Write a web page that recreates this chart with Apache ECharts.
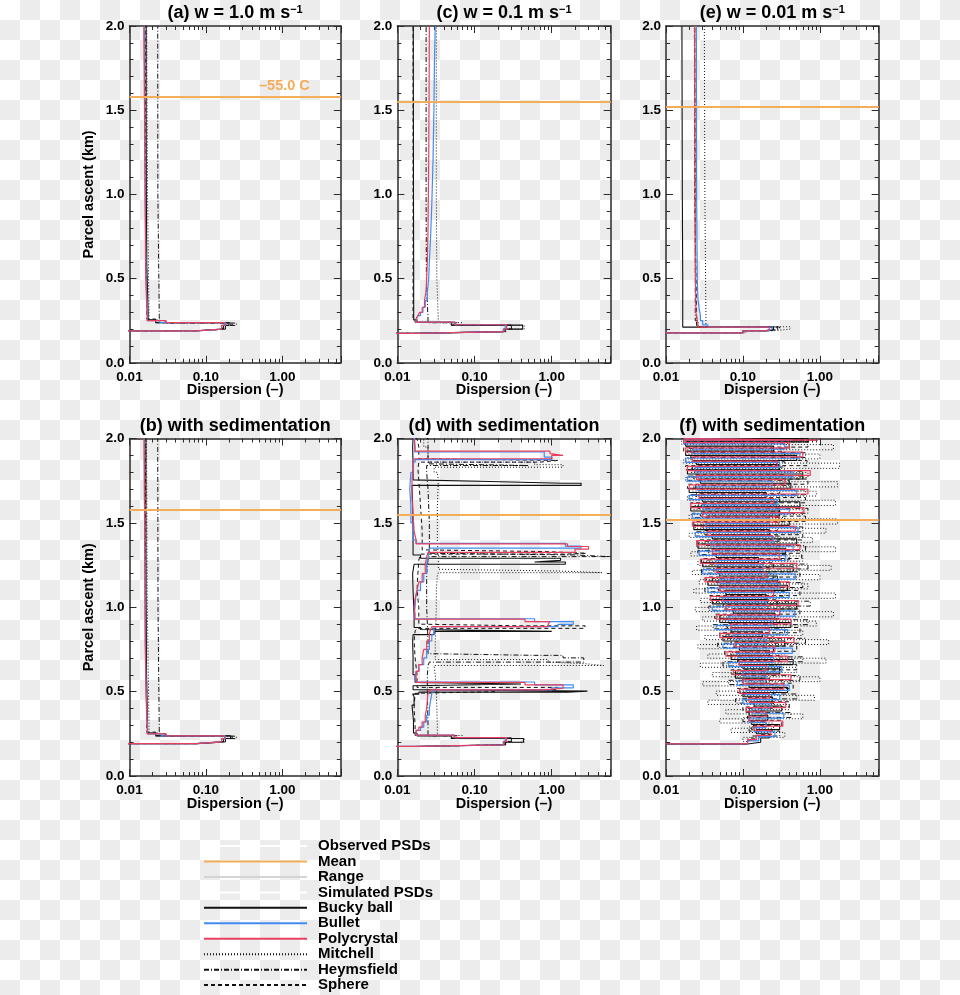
<!DOCTYPE html>
<html><head><meta charset="utf-8">
<script src="https://cdn.jsdelivr.net/npm/echarts@6/dist/echarts.min.js"></script>
<style>
html,body{margin:0;padding:0;}
body{width:960px;height:995px;background:repeating-conic-gradient(#ececec 0 25%, #ffffff 0 50%) 0 0/40px 40px;}
#chart{width:960px;height:995px;}
</style></head><body><div id="chart"></div>
<script>
// ---------- axes / labels ----------
const xMin = 0.01, xMax = 5.8;
const xMinorTicks = [0.02,0.03,0.04,0.05,0.06,0.07,0.08,0.09,0.2,0.3,0.4,0.5,0.6,0.7,0.8,0.9,2,3,4,5];
const yMin = 0, yMax = 2, yStep = 0.5;
const panelTitles = ['(a) w = 1.0 m s', '(b) with sedimentation', '(c) w = 0.1 m s', '(d) with sedimentation', '(e) w = 0.01 m s', '(f) with sedimentation'];
const panelSup = ['−1', '', '−1', '', '−1', ''];
const meanLevels = [1.58, 1.58, 1.55, 1.55, 1.52, 1.52];
const meanLabel = '–55.0 C';
const xName = 'Dispersion (–)';
const yName = 'Parcel ascent (km)';
const profileNames = ['Bucky ball', 'Bullet', 'Polycrystal', 'Mitchell', 'Heymsfield', 'Sphere'];
const legendNames = ['Observed PSDs', 'Mean', 'Range', 'Simulated PSDs', 'Bucky ball', 'Bullet', 'Polycrystal', 'Mitchell', 'Heymsfield', 'Sphere'];

// ---------- data: [dispersion, altitude km] ----------
// (a) w = 1.0
const aBucky = [[0.009,0],[0.075,0.19],[0.17,0.2],[0.2,0.222],[0.022,0.238],[0.0175,0.255],[0.0168,0.3],[0.0166,0.6],[0.0165,1.0],[0.0165,1.5],[0.0166,2.0]];
const aBullet = [[0.009,0],[0.075,0.19],[0.16,0.2],[0.18,0.222],[0.025,0.238],[0.0172,0.25],[0.0165,0.28],[0.016,0.5],[0.0158,1.0],[0.0156,1.5],[0.0155,2.0]];
const aPoly = [[0.009,0],[0.075,0.19],[0.16,0.2],[0.175,0.222],[0.03,0.238],[0.017,0.25],[0.0163,0.28],[0.016,0.5],[0.0157,1.0],[0.0154,1.5],[0.0152,2.0]];
const aMitchell = [[0.009,0],[0.078,0.19],[0.165,0.2],[0.21,0.222],[0.025,0.238],[0.018,0.255],[0.0172,0.3],[0.0168,1.0],[0.0168,2.0]];
const aHeyms = [[0.009,0],[0.08,0.19],[0.18,0.2],[0.25,0.222],[0.03,0.236],[0.0245,0.25],[0.0235,0.28],[0.0234,1.0],[0.0234,2.0]];
const aSphere = [[0.009,0],[0.075,0.19],[0.165,0.2],[0.22,0.222],[0.022,0.238],[0.0168,0.26],[0.0162,0.5],[0.016,1.0],[0.016,2.0]];
// (b) w = 1.0 with sedimentation
const bBucky = [[0.009,0],[0.075,0.192],[0.17,0.202],[0.21,0.222],[0.022,0.238],[0.0172,0.254],[0.0167,0.3],[0.0165,0.6],[0.0164,1.0],[0.0164,1.5],[0.0165,2.0]];
const bBullet = [[0.009,0],[0.075,0.192],[0.16,0.202],[0.18,0.222],[0.026,0.238],[0.0172,0.25],[0.0165,0.28],[0.016,0.5],[0.0159,0.8],[0.0157,1.2],[0.0156,1.6],[0.0155,2.0]];
const bPoly = [[0.009,0],[0.075,0.192],[0.16,0.202],[0.175,0.222],[0.03,0.238],[0.017,0.25],[0.0164,0.28],[0.016,0.5],[0.0158,1.0],[0.0155,1.5],[0.0153,2.0]];
const bMitchell = [[0.009,0],[0.078,0.192],[0.165,0.202],[0.22,0.222],[0.025,0.238],[0.018,0.255],[0.0171,0.3],[0.0167,1.0],[0.0166,2.0]];
const bHeyms = [[0.009,0],[0.08,0.192],[0.18,0.202],[0.25,0.222],[0.03,0.236],[0.0245,0.25],[0.0236,0.28],[0.0234,1.0],[0.0233,2.0]];
const bSphere = [[0.009,0],[0.075,0.192],[0.165,0.202],[0.22,0.222],[0.022,0.238],[0.0168,0.26],[0.0162,0.5],[0.016,1.0],[0.016,2.0]];
// (c) w = 0.1
const cBucky = [[0.009,0],[0.017,0.175],[0.24,0.185],[0.42,0.2],[0.05,0.224],[0.018,0.24],[0.0163,0.255],[0.0162,0.5],[0.0161,1.0],[0.0161,2.0]];
const cBullet = [[0.009,0],[0.017,0.175],[0.235,0.185],[0.25,0.2],[0.056,0.226],[0.0175,0.242],[0.0185,0.26],[0.02,0.28],[0.0215,0.3],[0.023,0.33],[0.0245,0.37],[0.0255,0.42],[0.026,0.5],[0.027,0.6],[0.028,0.75],[0.029,0.95],[0.0298,1.2],[0.0303,1.5],[0.031,1.8],[0.031,2.0]];
const cPoly = [[0.009,0],[0.017,0.175],[0.24,0.185],[0.26,0.2],[0.055,0.226],[0.0175,0.242],[0.0185,0.26],[0.0195,0.28],[0.021,0.3],[0.0225,0.33],[0.0235,0.37],[0.024,0.42],[0.0245,0.5],[0.025,0.6],[0.0255,0.8],[0.0258,1.2],[0.026,1.6],[0.026,2.0]];
const cMitchell = [[0.009,0],[0.018,0.175],[0.26,0.185],[0.44,0.2],[0.07,0.222],[0.034,0.238],[0.0325,0.26],[0.032,0.5],[0.032,1.0],[0.032,2.0]];
const cHeyms = [[0.009,0],[0.017,0.175],[0.25,0.185],[0.3,0.2],[0.06,0.222],[0.025,0.238],[0.0238,0.26],[0.0236,0.5],[0.0236,1.0],[0.0236,2.0]];
const cSphere = [[0.009,0],[0.017,0.175],[0.24,0.185],[0.3,0.2],[0.05,0.224],[0.017,0.24],[0.016,0.26],[0.016,1.0],[0.016,2.0]];
// (d) w = 0.1 with sedimentation
const dBucky = [[0.009,0],[0.017,0.175],[0.25,0.185],[0.43,0.2],[0.05,0.222],[0.018,0.238],[0.0162,0.255],[0.0155,0.33],[0.0165,0.42],[0.0158,0.47],[0.019,0.485],[1.6,0.497],[2.9,0.503],[0.016,0.512],[0.017,0.535],[0.4,0.545],[0.017,0.555],[0.016,0.6],[0.0158,0.7],[0.016,0.8],[0.03,0.838],[1.0,0.857],[0.02,0.868],[0.0165,0.88],[0.016,0.95],[0.0158,1.1],[0.0165,1.2],[1.5,1.255],[0.6,1.268],[1.3,1.278],[0.02,1.29],[0.016,1.31],[0.0158,1.45],[0.0155,1.6],[2.4,1.722],[1.4,1.735],[0.16,1.745],[0.016,1.755],[0.0158,1.85],[0.016,1.95],[0.016,2.0]];
const dBullet = [[0.009,0],[0.017,0.175],[0.235,0.185],[0.25,0.205],[0.055,0.228],[0.0175,0.242],[0.02,0.27],[0.022,0.29],[0.024,0.32],[0.026,0.36],[0.027,0.4],[0.028,0.45],[0.029,0.49],[1.0,0.51],[1.9,0.522],[0.6,0.54],[0.017,0.557],[0.0175,0.58],[0.019,0.62],[0.022,0.66],[0.024,0.7],[0.026,0.75],[0.028,0.8],[0.03,0.84],[0.029,0.87],[1.2,0.885],[1.9,0.898],[0.6,0.915],[0.0165,0.932],[0.017,0.96],[0.0172,1.0],[0.018,1.05],[0.02,1.1],[0.022,1.15],[0.024,1.2],[0.025,1.25],[0.026,1.3],[2.4,1.35],[1.5,1.362],[0.0175,1.378],[0.016,1.4],[0.015,1.5],[0.0145,1.6],[0.015,1.7],[0.016,1.8],[0.017,1.86],[1.0,1.875],[0.8,1.89],[0.0168,1.92],[0.016,2.0]];
const dPoly = [[0.009,0],[0.017,0.175],[0.24,0.185],[0.26,0.205],[0.055,0.228],[0.0175,0.242],[0.019,0.27],[0.021,0.29],[0.023,0.32],[0.024,0.36],[0.0245,0.4],[0.025,0.45],[0.0265,0.49],[0.8,0.51],[1.4,0.52],[0.45,0.54],[0.0175,0.555],[0.0175,0.58],[0.019,0.62],[0.021,0.66],[0.022,0.7],[0.024,0.75],[0.026,0.8],[0.027,0.84],[0.028,0.87],[0.9,0.885],[0.95,0.9],[0.45,0.915],[0.017,0.93],[0.0165,0.96],[0.017,1.0],[0.018,1.05],[0.019,1.1],[0.021,1.15],[0.023,1.2],[0.024,1.25],[0.025,1.3],[2.0,1.325],[3.0,1.345],[1.6,1.36],[0.0175,1.375],[0.0165,1.4],[0.016,1.45],[0.0155,1.55],[0.0155,1.65],[0.016,1.75],[0.0165,1.85],[1.0,1.88],[1.4,1.9],[0.95,1.91],[0.017,1.925],[0.0165,1.95],[0.0162,2.0]];
const dMitchell = [[0.009,0],[0.018,0.175],[0.26,0.185],[0.44,0.2],[0.07,0.222],[0.033,0.24],[0.032,0.3],[0.031,0.5],[0.03,0.6],[4.7,0.655],[2.8,0.665],[0.9,0.675],[0.031,0.69],[0.032,0.8],[0.032,1.0],[0.033,1.1],[0.034,1.19],[4.5,1.205],[1.2,1.215],[0.034,1.225],[0.033,1.3],[0.033,1.4],[0.034,1.6],[0.033,1.75],[0.03,1.8],[1.4,1.83],[0.6,1.845],[0.025,1.86],[0.022,1.95],[0.022,2.0]];
const dHeyms = [[0.009,0],[0.018,0.175],[0.25,0.185],[0.3,0.205],[0.06,0.224],[0.025,0.238],[0.0245,0.3],[0.0245,0.5],[0.025,0.6],[0.026,0.655],[2.6,0.675],[1.4,0.7],[0.6,0.715],[0.025,0.725],[0.024,0.8],[0.024,1.0],[0.025,1.2],[0.026,1.28],[5.4,1.3],[2.0,1.31],[0.026,1.32],[0.025,1.5],[0.024,1.7],[0.024,1.8],[0.5,1.84],[0.025,1.85],[0.024,2.0]];
const dSphere = [[0.009,0],[0.017,0.175],[0.24,0.185],[0.3,0.205],[0.05,0.226],[0.017,0.24],[0.0165,0.3],[0.017,0.4],[0.018,0.49],[0.2,0.5],[1.2,0.512],[0.018,0.525],[0.017,0.6],[0.0165,0.7],[0.017,0.8],[0.018,0.86],[2.7,0.875],[0.4,0.89],[0.019,0.9],[0.018,1.0],[0.0185,1.1],[0.019,1.2],[0.02,1.28],[1.6,1.315],[2.8,1.32],[0.8,1.33],[0.021,1.34],[0.02,1.45],[0.019,1.6],[0.0185,1.75],[0.019,1.82],[0.7,1.86],[1.2,1.87],[0.019,1.88],[0.018,1.95],[0.017,2.0]];
// (e) w = 0.01
const eBucky = [[0.009,0],[0.1,0.178],[0.21,0.19],[0.25,0.2],[0.0165,0.212],[0.0163,0.5],[0.0162,1.0],[0.0161,1.5],[0.016,2.0]];
const eBullet = [[0.009,0],[0.1,0.178],[0.21,0.19],[0.24,0.2],[0.035,0.212],[0.03,0.225],[0.028,0.25],[0.027,0.28],[0.026,0.32],[0.0255,0.38],[0.025,0.5],[0.0248,1.0],[0.0246,2.0]];
const ePoly = [[0.009,0],[0.1,0.178],[0.2,0.19],[0.22,0.2],[0.026,0.212],[0.0245,0.23],[0.024,0.3],[0.0238,0.6],[0.0236,1.0],[0.0235,2.0]];
const eMitchell = [[0.009,0],[0.11,0.178],[0.25,0.19],[0.41,0.2],[0.033,0.214],[0.032,0.3],[0.0315,1.0],[0.0315,2.0]];
const eHeyms = [[0.009,0],[0.1,0.178],[0.22,0.19],[0.3,0.2],[0.026,0.213],[0.024,0.25],[0.0237,1.0],[0.0237,2.0]];
const eSphere = [[0.009,0],[0.1,0.178],[0.2,0.19],[0.28,0.2],[0.025,0.212],[0.0236,0.3],[0.0234,1.0],[0.0234,2.0]];
// (f) w = 0.01 with sedimentation
const fBucky = [[0.009,0],[0.115,0.19],[0.17,0.2],[0.22,0.225],[0.15,0.25],[0.3,0.275],[0.13,0.305],[0.21,0.33],[0.12,0.36],[0.32,0.385],[0.14,0.415],[0.24,0.44],[0.1,0.47],[0.38,0.495],[0.12,0.525],[0.2,0.55],[0.08,0.58],[0.3,0.605],[0.1,0.635],[0.45,0.66],[0.07,0.69],[0.22,0.715],[0.09,0.745],[0.35,0.77],[0.055,0.8],[0.18,0.825],[0.07,0.855],[0.42,0.88],[0.05,0.91],[0.26,0.935],[0.075,0.965],[0.5,0.99],[0.04,1.02],[0.2,1.045],[0.06,1.075],[0.38,1.1],[0.035,1.13],[0.28,1.155],[0.05,1.185],[0.45,1.21],[0.03,1.24],[0.16,1.265],[0.045,1.295],[0.36,1.32],[0.026,1.35],[0.5,1.375],[0.04,1.405],[0.22,1.43],[0.023,1.46],[0.4,1.485],[0.035,1.515],[0.3,1.54],[0.021,1.57],[0.55,1.595],[0.03,1.625],[0.2,1.65],[0.02,1.68],[0.42,1.705],[0.028,1.735],[0.6,1.76],[0.019,1.79],[0.3,1.815],[0.025,1.845],[0.5,1.87],[0.018,1.9],[0.25,1.925],[0.018,1.955],[0.7,1.98],[0.017,2.0]];
const fBullet = [[0.009,0],[0.115,0.19],[0.16,0.208],[0.26,0.233],[0.14,0.262],[0.2,0.287],[0.12,0.318],[0.34,0.343],[0.13,0.372],[0.22,0.397],[0.1,0.428],[0.3,0.453],[0.11,0.482],[0.4,0.507],[0.085,0.538],[0.2,0.563],[0.1,0.592],[0.32,0.617],[0.065,0.648],[0.25,0.673],[0.085,0.702],[0.44,0.727],[0.055,0.758],[0.2,0.783],[0.075,0.812],[0.38,0.837],[0.045,0.868],[0.24,0.893],[0.065,0.922],[0.47,0.947],[0.04,0.978],[0.2,1.003],[0.055,1.032],[0.4,1.057],[0.035,1.088],[0.3,1.113],[0.05,1.142],[0.48,1.167],[0.03,1.198],[0.18,1.223],[0.045,1.252],[0.36,1.277],[0.027,1.308],[0.45,1.333],[0.038,1.362],[0.25,1.387],[0.024,1.418],[0.52,1.443],[0.033,1.472],[0.22,1.497],[0.022,1.528],[0.4,1.553],[0.03,1.582],[0.28,1.607],[0.02,1.638],[0.5,1.663],[0.026,1.692],[0.24,1.717],[0.019,1.748],[0.45,1.773],[0.024,1.802],[0.3,1.827],[0.018,1.858],[0.55,1.883],[0.022,1.912],[0.35,1.937],[0.017,1.968],[0.45,1.99],[0.017,2.0]];
const fPoly = [[0.009,0],[0.115,0.19],[0.15,0.216],[0.23,0.241],[0.14,0.27],[0.33,0.295],[0.12,0.326],[0.2,0.351],[0.11,0.38],[0.36,0.405],[0.12,0.436],[0.22,0.461],[0.09,0.49],[0.34,0.515],[0.1,0.546],[0.42,0.571],[0.075,0.6],[0.2,0.625],[0.09,0.656],[0.38,0.681],[0.06,0.71],[0.26,0.735],[0.08,0.766],[0.46,0.791],[0.05,0.82],[0.22,0.845],[0.07,0.876],[0.42,0.901],[0.045,0.93],[0.3,0.955],[0.06,0.986],[0.52,1.011],[0.038,1.04],[0.25,1.065],[0.05,1.096],[0.4,1.121],[0.032,1.15],[0.2,1.175],[0.045,1.206],[0.5,1.231],[0.028,1.26],[0.3,1.285],[0.04,1.316],[0.55,1.341],[0.025,1.37],[0.24,1.395],[0.035,1.426],[0.48,1.451],[0.022,1.48],[0.3,1.505],[0.03,1.536],[0.62,1.561],[0.021,1.59],[0.25,1.615],[0.027,1.646],[0.7,1.671],[0.02,1.7],[0.35,1.725],[0.025,1.756],[0.75,1.781],[0.019,1.81],[0.28,1.835],[0.022,1.866],[0.6,1.891],[0.018,1.92],[0.4,1.945],[0.017,1.976],[0.95,1.99],[0.017,2.0]];
const fMitchell = [[0.009,0],[0.115,0.19],[0.1,0.204],[0.35,0.229],[0.07,0.258],[0.25,0.283],[0.05,0.314],[0.6,0.339],[0.06,0.368],[0.4,0.393],[0.035,0.424],[0.85,0.449],[0.045,0.478],[0.3,0.503],[0.03,0.534],[1.0,0.559],[0.04,0.588],[0.5,0.613],[0.028,0.644],[1.2,0.669],[0.035,0.698],[0.35,0.723],[0.026,0.754],[1.3,0.779],[0.032,0.808],[0.6,0.833],[0.025,0.864],[0.9,0.889],[0.03,0.918],[1.5,0.943],[0.024,0.974],[0.5,0.999],[0.028,1.028],[1.6,1.053],[0.023,1.084],[0.7,1.109],[0.027,1.138],[1.0,1.163],[0.022,1.194],[1.4,1.219],[0.026,1.248],[0.6,1.273],[0.021,1.304],[1.6,1.329],[0.025,1.358],[0.8,1.383],[0.02,1.414],[1.2,1.439],[0.024,1.468],[1.7,1.493],[0.02,1.524],[0.6,1.549],[0.023,1.578],[1.6,1.603],[0.019,1.634],[0.9,1.659],[0.022,1.688],[1.7,1.713],[0.018,1.744],[0.7,1.769],[0.021,1.798],[1.8,1.823],[0.017,1.854],[1.0,1.879],[0.019,1.908],[1.5,1.933],[0.016,1.964],[0.9,1.99],[0.016,2.0]];
const fHeyms = [[0.009,0],[0.115,0.19],[0.13,0.212],[0.3,0.237],[0.12,0.266],[0.2,0.291],[0.1,0.322],[0.42,0.347],[0.11,0.376],[0.25,0.401],[0.08,0.432],[0.5,0.457],[0.1,0.486],[0.28,0.511],[0.065,0.542],[0.55,0.567],[0.08,0.596],[0.3,0.621],[0.055,0.652],[0.6,0.677],[0.07,0.706],[0.25,0.731],[0.047,0.762],[0.65,0.787],[0.06,0.816],[0.35,0.841],[0.041,0.872],[0.7,0.897],[0.05,0.926],[0.3,0.951],[0.036,0.982],[0.75,1.007],[0.045,1.036],[0.35,1.061],[0.032,1.092],[0.6,1.117],[0.04,1.146],[0.25,1.171],[0.029,1.202],[0.7,1.227],[0.035,1.256],[0.4,1.281],[0.026,1.312],[0.65,1.337],[0.032,1.366],[0.3,1.391],[0.024,1.422],[0.6,1.447],[0.029,1.476],[0.35,1.501],[0.022,1.532],[0.7,1.557],[0.026,1.586],[0.3,1.611],[0.02,1.642],[0.65,1.667],[0.024,1.696],[0.4,1.721],[0.019,1.752],[0.6,1.777],[0.022,1.806],[0.35,1.831],[0.018,1.862],[0.65,1.887],[0.02,1.916],[0.4,1.941],[0.017,1.972],[0.6,1.99],[0.017,2.0]];
const fSphere = [[0.009,0],[0.115,0.19],[0.16,0.22],[0.24,0.245],[0.13,0.274],[0.32,0.299],[0.115,0.33],[0.2,0.355],[0.1,0.384],[0.4,0.409],[0.11,0.44],[0.25,0.465],[0.085,0.494],[0.45,0.519],[0.1,0.55],[0.22,0.575],[0.07,0.604],[0.5,0.629],[0.085,0.66],[0.3,0.685],[0.058,0.714],[0.5,0.739],[0.07,0.77],[0.25,0.795],[0.05,0.824],[0.55,0.849],[0.062,0.88],[0.3,0.905],[0.043,0.934],[0.55,0.959],[0.055,0.99],[0.28,1.015],[0.037,1.044],[0.55,1.069],[0.048,1.1],[0.3,1.125],[0.033,1.154],[0.55,1.179],[0.042,1.21],[0.25,1.235],[0.029,1.264],[0.58,1.289],[0.036,1.32],[0.3,1.345],[0.026,1.374],[0.6,1.399],[0.032,1.43],[0.28,1.455],[0.023,1.484],[0.65,1.509],[0.028,1.54],[0.3,1.565],[0.021,1.594],[0.65,1.619],[0.025,1.65],[0.3,1.675],[0.019,1.704],[0.7,1.729],[0.023,1.76],[0.35,1.785],[0.018,1.814],[0.68,1.839],[0.021,1.87],[0.35,1.895],[0.017,1.924],[0.7,1.949],[0.019,1.98],[0.6,1.995],[0.017,2.0]];

const panelProfiles = [
  [aBucky, aBullet, aPoly, aMitchell, aHeyms, aSphere],
  [bBucky, bBullet, bPoly, bMitchell, bHeyms, bSphere],
  [cBucky, cBullet, cPoly, cMitchell, cHeyms, cSphere],
  [dBucky, dBullet, dPoly, dMitchell, dHeyms, dSphere],
  [eBucky, eBullet, ePoly, eMitchell, eHeyms, eSphere],
  [fBucky, fBullet, fPoly, fMitchell, fHeyms, fSphere]
];

// ---------- layout & style ----------
const FONT = "'Liberation Sans', Arial, Helvetica, sans-serif";
const AX = '#2b2b2b';
const ORANGE = '#f4ad5a';
const colLeft = [129.5, 397.3, 666];
const colWidth = [211.3, 213.4, 212.6];
const rowTop = [26, 438.5];
const rowHeight = [336.8, 337.5];
const rowTitleY = [13.5, 426.5];
const panelRow = [0, 1, 0, 1, 0, 1];
const panelCol = [0, 0, 1, 1, 2, 2];
const drawOrder = [0, 3, 4, 5, 1, 2]; // black profiles first, blue and red on top
const profileStyle = {
  'Bucky ball': {color: '#111111', width: 1.1, type: 'solid'},
  'Bullet': {color: '#3f8cf5', width: 1.2, type: 'solid'},
  'Polycrystal': {color: '#e8405e', width: 1.2, type: 'solid'},
  'Mitchell': {color: '#111111', width: 1, type: [1, 2]},
  'Heymsfield': {color: '#111111', width: 1, type: [5, 2, 1, 2]},
  'Sphere': {color: '#111111', width: 1, type: [4, 3]}
};

function fmtX(v) {
  const l = Math.log10(v);
  return Math.abs(l - Math.round(l)) < 1e-6 ? v.toFixed(2) : '';
}
const tickFont = {fontSize: 13.5, fontWeight: 'bold', fontFamily: FONT, color: '#000'};
const nameFont = {fontSize: 14.5, fontWeight: 'bold', fontFamily: FONT, color: '#000'};

const grids = [], xAxes = [], yAxes = [], series = [], titles = [];
for (let p = 0; p < 6; p++) {
  const r = panelRow[p], c = panelCol[p];
  const g = {left: colLeft[c], top: rowTop[r], width: colWidth[c], height: rowHeight[r], outerBoundsMode: 'none', containLabel: false};
  grids.push(Object.assign({}, g), Object.assign({}, g));
  const gMain = 2 * p, gMinor = 2 * p + 1;
  const lineSt = {show: true, onZero: false, lineStyle: {color: AX, width: 1.5}};
  const tickSt = {show: true, inside: true, length: 7, lineStyle: {color: AX, width: 1}};
  xAxes.push({gridIndex: gMain, type: 'log', logBase: 10, min: xMin, max: xMax, position: 'bottom',
    axisLine: lineSt, axisTick: tickSt, splitLine: {show: false}, minorTick: {show: false},
    axisLabel: Object.assign({show: true, margin: 7, formatter: fmtX, showMinLabel: true, showMaxLabel: true}, tickFont),
    name: xName, nameLocation: 'middle', nameGap: 20, nameMoveOverlap: false, nameTextStyle: nameFont});
  xAxes.push({gridIndex: gMain, type: 'log', logBase: 10, min: xMin, max: xMax, position: 'top',
    axisLine: lineSt, axisTick: tickSt, splitLine: {show: false}, axisLabel: {show: false}});
  const minorSt = {show: true, inside: true, length: 4, customValues: xMinorTicks, lineStyle: {color: AX, width: 1}};
  xAxes.push({gridIndex: gMinor, type: 'log', logBase: 10, min: xMin, max: xMax, position: 'bottom',
    axisLine: {show: false}, axisTick: minorSt, splitLine: {show: false}, axisLabel: {show: false}});
  xAxes.push({gridIndex: gMinor, type: 'log', logBase: 10, min: xMin, max: xMax, position: 'top',
    axisLine: {show: false}, axisTick: minorSt, splitLine: {show: false}, axisLabel: {show: false}});
  const yMinor = {show: true, splitNumber: 5, length: 4, lineStyle: {color: AX, width: 1}};
  yAxes.push({gridIndex: gMain, type: 'value', min: yMin, max: yMax, interval: yStep, position: 'left',
    axisLine: lineSt, axisTick: tickSt, minorTick: yMinor, splitLine: {show: false}, minorSplitLine: {show: false},
    axisLabel: Object.assign({show: true, margin: 5, formatter: v => v.toFixed(1), showMinLabel: true, showMaxLabel: true}, tickFont),
    name: c === 0 ? yName : '', nameLocation: 'middle', nameGap: 33, nameRotate: 90, nameMoveOverlap: false, nameTextStyle: nameFont});
  yAxes.push({gridIndex: gMain, type: 'value', min: yMin, max: yMax, interval: yStep, position: 'right',
    axisLine: lineSt, axisTick: tickSt, minorTick: yMinor, splitLine: {show: false}, minorSplitLine: {show: false},
    axisLabel: {show: false}});
  yAxes.push({gridIndex: gMinor, type: 'value', min: yMin, max: yMax, show: false});

  drawOrder.forEach(k => {
    const nm = profileNames[k];
    const st = profileStyle[nm];
    series.push({name: nm, type: 'line', xAxisIndex: 4 * p, yAxisIndex: 3 * p, step: 'start',
      symbol: 'none', showSymbol: false, clip: true, silent: true,
      lineStyle: {color: st.color, width: st.width, type: st.type}, itemStyle: {color: st.color},
      data: panelProfiles[p][k]});
  });
  series.push({name: 'Mean', type: 'line', xAxisIndex: 4 * p, yAxisIndex: 3 * p, data: [], symbol: 'none',
    lineStyle: {color: ORANGE, width: 2}, itemStyle: {color: ORANGE},
    markLine: {silent: true, symbol: 'none', animation: false,
      lineStyle: {color: ORANGE, width: 2, type: 'solid'},
      label: {show: p === 0, position: 'insideEndTop', formatter: meanLabel, color: ORANGE, fontSize: 14.5, fontWeight: 'bold', fontFamily: FONT, distance: [31, 3]},
      data: [{yAxis: meanLevels[p]}]}});

  const supTxt = panelSup[p] ? '{s|' + panelSup[p] + '}' : '';
  titles.push({text: '{b|' + panelTitles[p] + '}' + supTxt, left: colLeft[c] + colWidth[c] / 2, top: rowTitleY[r],
    textAlign: 'center', textVerticalAlign: 'middle', padding: 0,
    textStyle: {rich: {
      b: {fontSize: 18, fontWeight: 'bold', fontFamily: FONT, color: '#000'},
      s: {fontSize: 11, fontWeight: 'bold', fontFamily: FONT, color: '#000', verticalAlign: 'top'}
    }}});
}
series.push({name: 'Observed PSDs', type: 'line', xAxisIndex: 0, yAxisIndex: 0, data: [], symbol: 'none', lineStyle: {color: '#ffffff', width: 1.5}, itemStyle: {color: '#ffffff'}});
series.push({name: 'Range', type: 'line', xAxisIndex: 0, yAxisIndex: 0, data: [], symbol: 'none', lineStyle: {color: '#d4d4d4', width: 2}, itemStyle: {color: '#d4d4d4'}});
series.push({name: 'Simulated PSDs', type: 'line', xAxisIndex: 0, yAxisIndex: 0, data: [], symbol: 'none', lineStyle: {color: '#ffffff', width: 1.5}, itemStyle: {color: '#ffffff'}});

const chart = echarts.init(document.getElementById('chart'), null, {renderer: 'canvas'});
chart.setOption({
  animation: false,
  backgroundColor: 'transparent',
  title: titles,
  grid: grids,
  xAxis: xAxes,
  yAxis: yAxes,
  legend: {
    data: legendNames, orient: 'vertical', left: 203, top: 838.3, padding: 0,
    itemWidth: 103, itemHeight: 14, itemGap: 0, selectedMode: false,
    itemStyle: {opacity: 0, borderWidth: 0},
    textStyle: {fontSize: 15, fontWeight: 'bold', fontFamily: FONT, color: '#000', lineHeight: 15.45, padding: [0, 0, 0, 6]}
  },
  series: series
});
</script></body></html>
